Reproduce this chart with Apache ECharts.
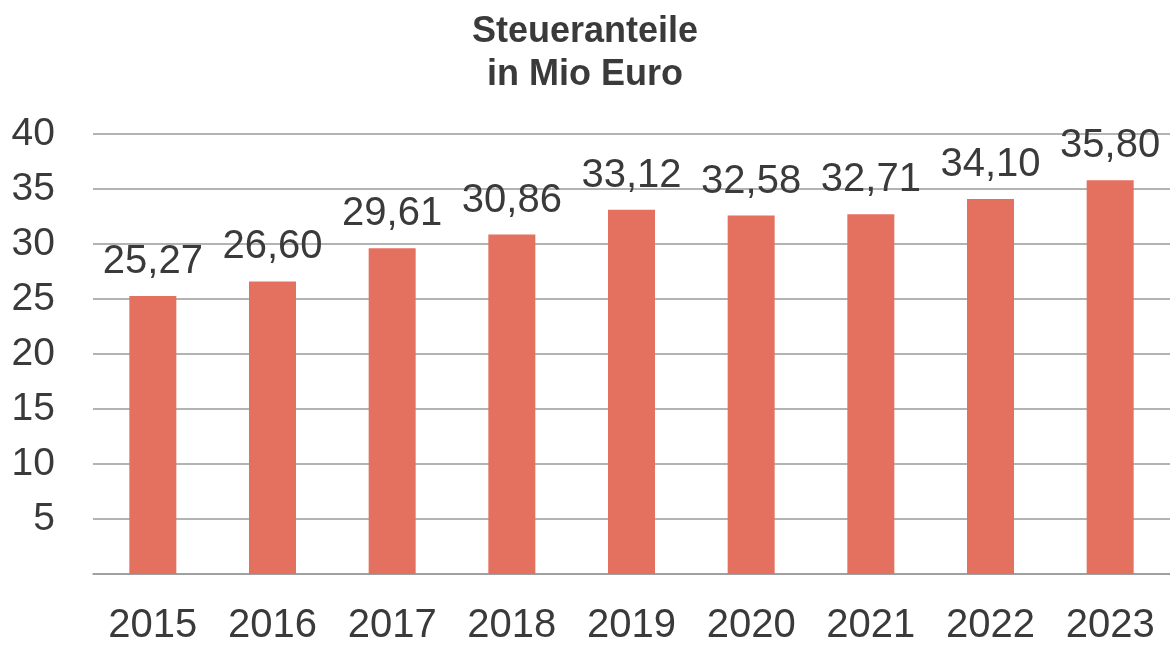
<!DOCTYPE html>
<html>
<head>
<meta charset="utf-8">
<script src="https://cdn.jsdelivr.net/npm/echarts@6/dist/echarts.min.js"></script>
<style>
html,body{margin:0;padding:0;background:#fff;}
#chart{width:1170px;height:646px;}
</style>
</head>
<body>
<div id="chart"></div>
<script>
const titleText = "Steueranteile\nin Mio Euro";
const categories = ["2015","2016","2017","2018","2019","2020","2021","2022","2023"];
const values = [25.27, 26.60, 29.61, 30.86, 33.12, 32.58, 32.71, 34.10, 35.80];

const font = "Liberation Sans, Arial, sans-serif";
const chart = echarts.init(document.getElementById('chart'));
chart.setOption({
  backgroundColor: '#ffffff',
  animation: false,
  title: {
    text: titleText,
    left: 'center',
    top: 6,
    textStyle: {fontFamily: font, fontSize: 36, fontWeight: 'bold', color: '#3a3a3a', lineHeight: 43}
  },
  grid: {left: 93, right: 0, top: 134, bottom: 69},
  xAxis: {
    type: 'category',
    data: categories,
    axisTick: {show: false},
    axisLine: {show: true, lineStyle: {color: '#9a9a9a', width: 1.5}},
    axisLabel: {fontFamily: font, fontSize: 40, color: '#3a3a3a', margin: 32}
  },
  yAxis: {
    type: 'value',
    min: 0, max: 40, interval: 5,
    axisLine: {show: false},
    axisTick: {show: false},
    splitLine: {lineStyle: {color: '#9a9a9a', width: 1.5}},
    axisLabel: {
      fontFamily: font, fontSize: 39, color: '#3a3a3a', margin: 38,
      formatter: v => v === 0 ? '' : String(v)
    }
  },
  series: [{
    type: 'bar',
    data: values,
    barWidth: 47,
    itemStyle: {color: '#e4705f'},
    label: {
      show: true,
      position: 'top',
      distance: 14,
      fontFamily: font, fontSize: 40, color: '#3a3a3a',
      formatter: p => p.value.toFixed(2).replace('.', ',')
    }
  }]
});
</script>
</body>
</html>
